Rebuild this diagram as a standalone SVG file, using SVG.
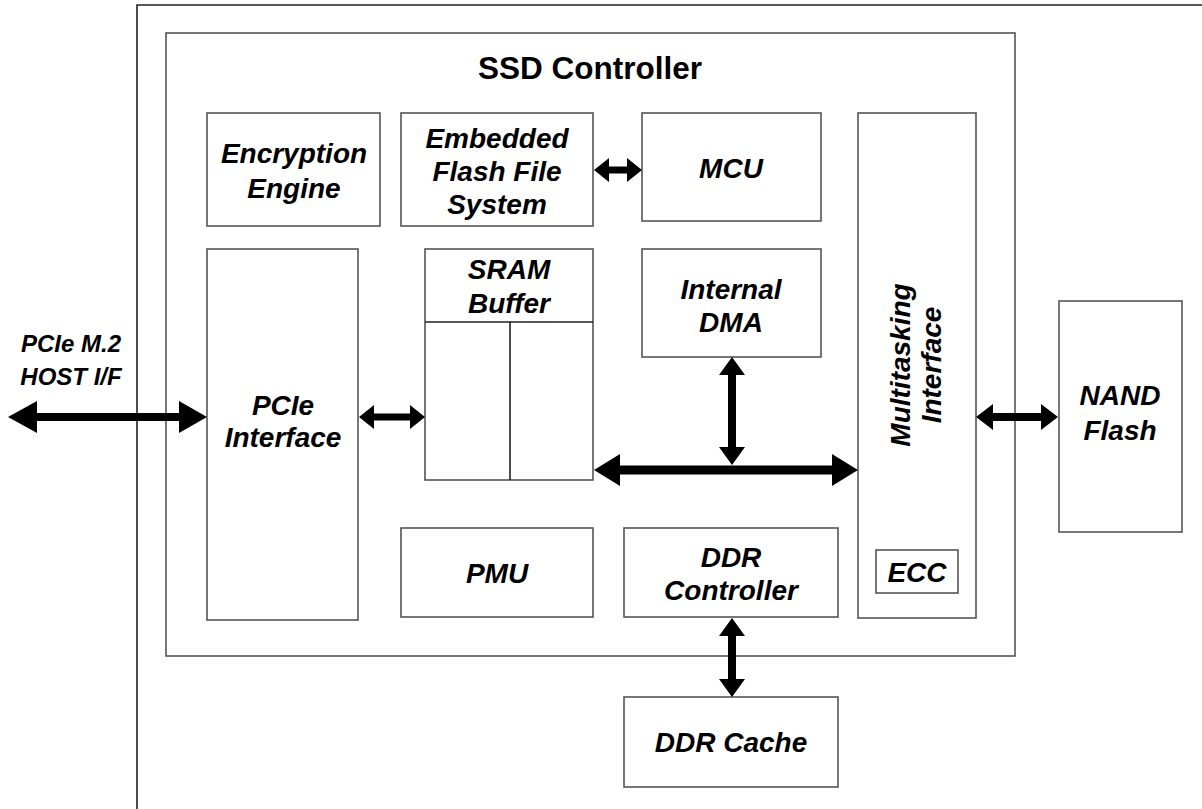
<svg xmlns="http://www.w3.org/2000/svg" width="1202" height="809" viewBox="0 0 1202 809">
<style>
.bx{fill:#fff;stroke:#555;stroke-width:1.6}
.ln{fill:none;stroke:#222;stroke-width:1.6}
.t{font-family:"Liberation Sans",Arial,sans-serif;font-weight:bold;font-style:italic;font-size:28px;fill:#000;text-anchor:middle}
.h{font-family:"Liberation Sans",Arial,sans-serif;font-weight:bold;font-size:31.5px;fill:#000;text-anchor:middle}
.s{font-size:24px}
.ar{fill:#000;stroke:none}
</style>
<rect width="1202" height="809" fill="#fff"/>
<g id="frame">
<path class="ln" d="M137,809 L137,5 L1202,5"/>
</g>
<g id="ssd-controller">
<rect class="bx" x="166" y="33" width="849" height="623"/>
<text class="h" x="590" y="79">SSD Controller</text>
</g>
<g id="encryption-engine">
<rect class="bx" x="207" y="113" width="173" height="113"/>
<text class="t" x="294" y="163">Encryption</text>
<text class="t" x="294" y="198">Engine</text>
</g>
<g id="embedded-ffs">
<rect class="bx" x="401" y="113" width="192" height="113"/>
<text class="t" x="497" y="148">Embedded</text>
<text class="t" x="497" y="181">Flash File</text>
<text class="t" x="497" y="214">System</text>
</g>
<g id="mcu">
<rect class="bx" x="642" y="113" width="179" height="108"/>
<text class="t" x="731" y="178">MCU</text>
</g>
<g id="multitasking-interface">
<rect class="bx" x="858" y="113" width="118" height="505"/>
<text class="t" transform="translate(910,365) rotate(-90)">Multitasking</text>
<text class="t" transform="translate(941,365) rotate(-90)">Interface</text>
</g>
<g id="ecc">
<rect class="bx" x="876" y="550" width="82" height="43"/>
<text class="t" x="917" y="582">ECC</text>
</g>
<g id="pcie-interface">
<rect class="bx" x="207" y="249" width="151" height="371"/>
<text class="t" x="283" y="415">PCIe</text>
<text class="t" x="283" y="447">Interface</text>
</g>
<g id="sram-buffer">
<rect class="bx" x="425" y="249" width="168" height="231"/>
<path class="ln" d="M425,322 L593,322 M510,322 L510,480"/>
<text class="t" x="509" y="279">SRAM</text>
<text class="t" x="509" y="313">Buffer</text>
</g>
<g id="internal-dma">
<rect class="bx" x="642" y="249" width="179" height="108"/>
<text class="t" x="731" y="299">Internal</text>
<text class="t" x="731" y="332">DMA</text>
</g>
<g id="pmu">
<rect class="bx" x="401" y="528" width="192" height="89"/>
<text class="t" x="497" y="583">PMU</text>
</g>
<g id="ddr-controller">
<rect class="bx" x="624" y="528" width="214" height="89"/>
<text class="t" x="731" y="567">DDR</text>
<text class="t" x="731" y="600">Controller</text>
</g>
<g id="ddr-cache">
<rect class="bx" x="624" y="697" width="214" height="90"/>
<text class="t" x="731" y="752">DDR Cache</text>
</g>
<g id="nand-flash">
<rect class="bx" x="1059" y="301" width="123" height="231"/>
<text class="t" x="1120" y="405">NAND</text>
<text class="t" x="1120" y="440">Flash</text>
</g>
<g id="host-label">
<text class="t s" x="71" y="352">PCIe M.2</text>
<text class="t s" x="71" y="385">HOST I/F</text>
</g>
<g id="connectors">
<path class="ar" d="M8,417 L37,401 L37,413 L179,413 L179,401 L207,417 L179,433 L179,421 L37,421 L37,433 Z"/>
<path class="ar" d="M359,417 L374,405 L374,413.5 L410,413.5 L410,405 L425,417 L410,429 L410,420.5 L374,420.5 L374,429 Z"/>
<path class="ar" d="M594,170 L609,158 L609,166.5 L627,166.5 L627,158 L642,170 L627,182 L627,173.5 L609,173.5 L609,182 Z"/>
<path class="ar" d="M594,470 L620,454 L620,465.5 L832,465.5 L832,454 L858,470 L832,486 L832,474.5 L620,474.5 L620,486 Z"/>
<path class="ar" d="M732,357 L745,375 L736,375 L736,447 L745,447 L732,465 L719,447 L728,447 L728,375 L719,375 Z"/>
<path class="ar" d="M732,618 L745,636 L736,636 L736,679 L745,679 L732,697 L719,679 L728,679 L728,636 L719,636 Z"/>
<path class="ar" d="M976,417 L993,404 L993,413 L1041,413 L1041,404 L1058,417 L1041,430 L1041,421 L993,421 L993,430 Z"/>
</g>
</svg>
